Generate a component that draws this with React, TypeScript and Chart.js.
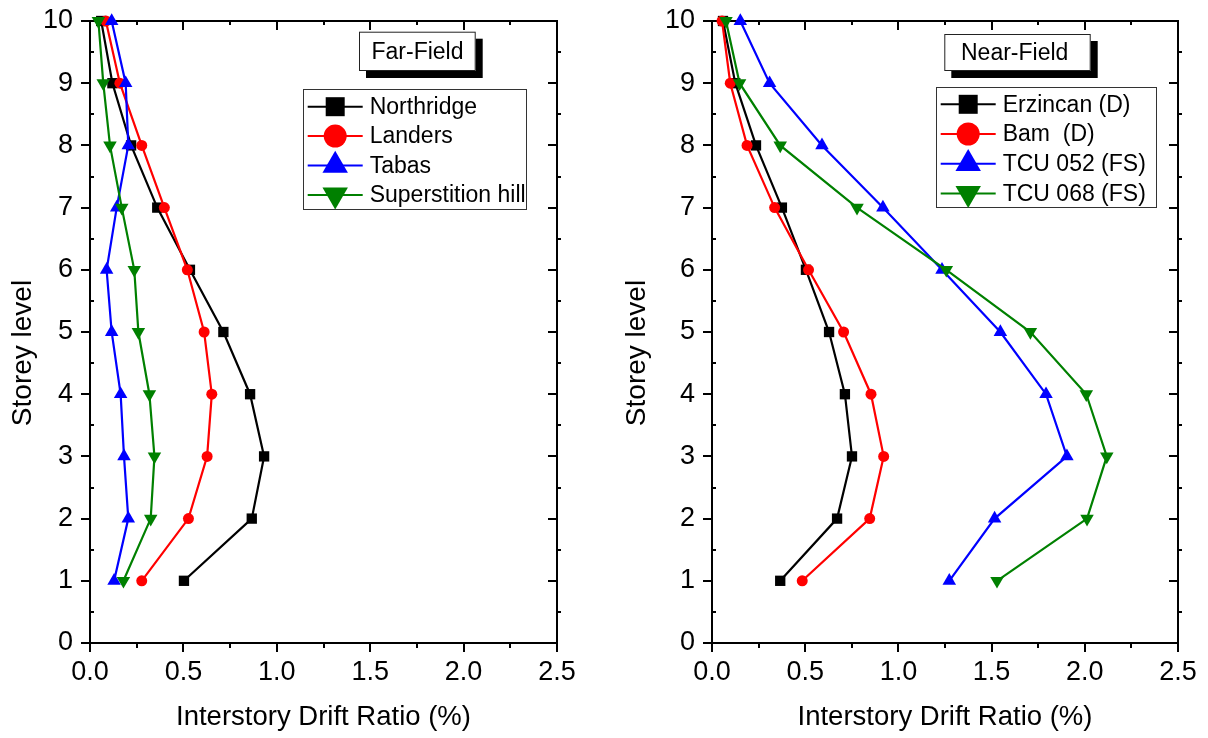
import React, { useEffect, useRef } from 'react';
import { Chart, registerables } from 'chart.js';

Chart.register(...registerables);

// ---------- data ----------
const STOREY_LEVELS = [10, 9, 8, 7, 6, 5, 4, 3, 2, 1];

const FAR_LABELS = ['Northridge', 'Landers', 'Tabas', 'Superstition hill'];
const NORTHRIDGE = [0.06, 0.12, 0.22, 0.36, 0.535, 0.714, 0.857, 0.932, 0.866, 0.503];
const LANDERS = [0.085, 0.16, 0.277, 0.398, 0.521, 0.611, 0.652, 0.627, 0.527, 0.277];
const TABAS = [0.116, 0.191, 0.205, 0.143, 0.089, 0.116, 0.164, 0.182, 0.205, 0.129];
const SUPERSTITION = [0.045, 0.071, 0.107, 0.17, 0.237, 0.259, 0.318, 0.345, 0.325, 0.179];

const NEAR_LABELS = ['Erzincan (D)', 'Bam  (D)', 'TCU 052 (FS)', 'TCU 068 (FS)'];
const ERZINCAN = [0.059, 0.125, 0.236, 0.375, 0.504, 0.628, 0.713, 0.751, 0.671, 0.366];
const BAM = [0.054, 0.098, 0.188, 0.336, 0.518, 0.706, 0.853, 0.921, 0.846, 0.484];
const TCU052 = [0.152, 0.309, 0.59, 0.917, 1.234, 1.547, 1.792, 1.904, 1.516, 1.273];
const TCU068 = [0.075, 0.148, 0.366, 0.778, 1.257, 1.708, 2.008, 2.118, 2.012, 1.529];

const X_MIN = 0;
const X_MAX = 2.5;
const X_STEP = 0.5;
const Y_MIN = 0;
const Y_MAX = 10;
const Y_STEP = 1;

const X_TITLE = 'Interstory Drift Ratio (%)';
const Y_TITLE = 'Storey level';

// ---------- styles ----------
const FONT = "'Liberation Sans', Arial, Helvetica, sans-serif";
const COLORS = ['#000000', '#ff0000', '#0000ff', '#008000'];
const STYLES = [
  { pointStyle: 'rect', pointRadius: 7.3, pointRotation: 0 },
  { pointStyle: 'circle', pointRadius: 5.5, pointRotation: 0 },
  { pointStyle: 'triangle', pointRadius: 7.8, pointRotation: 0 },
  { pointStyle: 'triangle', pointRadius: 7.8, pointRotation: 180 },
];

function makeDatasets(labels: string[], series: number[][]) {
  return series.map((vals, i) => ({
    label: labels[i],
    data: vals.map((v, k) => ({ x: v, y: STOREY_LEVELS[k] })),
    borderColor: COLORS[i],
    backgroundColor: COLORS[i],
    pointBackgroundColor: COLORS[i],
    pointBorderColor: COLORS[i],
    pointBorderWidth: 0,
    borderWidth: 2.2,
    showLine: true,
    clip: false as any,
    order: series.length - 1 - i,
    ...STYLES[i],
  }));
}

function drawMarker(ctx: CanvasRenderingContext2D, style: string, rot: number, x: number, y: number, color: string) {
  ctx.save();
  ctx.fillStyle = color;
  ctx.beginPath();
  if (style === 'rect') {
    const s = 19;
    ctx.rect(x - s / 2, y - s / 2, s, s);
  } else if (style === 'circle') {
    ctx.arc(x, y, 11.5, 0, Math.PI * 2);
  } else {
    const r = 14.7;
    let a = (rot * Math.PI) / 180;
    ctx.moveTo(x + Math.sin(a) * r, y - Math.cos(a) * r);
    a += (2 * Math.PI) / 3;
    ctx.lineTo(x + Math.sin(a) * r, y - Math.cos(a) * r);
    a += (2 * Math.PI) / 3;
    ctx.lineTo(x + Math.sin(a) * r, y - Math.cos(a) * r);
    ctx.closePath();
  }
  ctx.fill();
  ctx.restore();
}

const framePlugin = {
  id: 'frameTicks',
  beforeDatasetsDraw(chart: any) {
    const { ctx, chartArea } = chart;
    const { left, right, top, bottom } = chartArea;
    const xs = chart.scales.x;
    const ys = chart.scales.y;
    ctx.save();
    ctx.strokeStyle = '#000';
    ctx.lineWidth = 2;
    ctx.beginPath();
    const xMaj = xs.ticks.map((t: any) => t.value);
    const yMaj = ys.ticks.map((t: any) => t.value);
    xMaj.forEach((v: number, i: number) => {
      const p = Math.round(xs.getPixelForValue(v));
      ctx.moveTo(p, bottom); ctx.lineTo(p, bottom + 9);
      ctx.moveTo(p, top); ctx.lineTo(p, top + 9);
      if (i < xMaj.length - 1) {
        const m = Math.round(xs.getPixelForValue((v + xMaj[i + 1]) / 2));
        ctx.moveTo(m, bottom); ctx.lineTo(m, bottom + 5);
        ctx.moveTo(m, top); ctx.lineTo(m, top + 4);
      }
    });
    yMaj.forEach((v: number, i: number) => {
      const p = Math.round(ys.getPixelForValue(v));
      ctx.moveTo(left - 9, p); ctx.lineTo(left, p);
      ctx.moveTo(right - 9, p); ctx.lineTo(right, p);
      if (i < yMaj.length - 1) {
        const m = Math.round(ys.getPixelForValue((v + yMaj[i + 1]) / 2));
        ctx.moveTo(left, m); ctx.lineTo(left + 4, m);
        ctx.moveTo(right, m); ctx.lineTo(right + 4, m);
      }
    });
    ctx.stroke();
    ctx.strokeRect(left, top, right - left, bottom - top);
    ctx.restore();
  },
};

const overlayPlugin = {
  id: 'overlay',
  afterDraw(chart: any, _args: any, opts: any) {
    const { ctx, chartArea } = chart;
    const { right, top } = chartArea;
    ctx.save();
    // y-axis title
    ctx.save();
    ctx.translate(opts.yTitleX, opts.yTitleY);
    ctx.rotate(-Math.PI / 2);
    ctx.font = `28px ${FONT}`;
    ctx.fillStyle = '#000';
    ctx.textAlign = 'center';
    ctx.textBaseline = 'middle';
    ctx.fillText(Y_TITLE, 0, 0);
    ctx.restore();

    // title box with shadow
    const bx = right - opts.boxRight[0];
    const bx2 = right - opts.boxRight[1];
    const by = top + opts.boxTop[0];
    const by2 = top + opts.boxTop[1];
    ctx.fillStyle = '#000';
    ctx.fillRect(bx + 7, by + 7, bx2 - bx, by2 - by);
    ctx.fillStyle = '#fff';
    ctx.fillRect(bx, by, bx2 - bx, by2 - by);
    ctx.strokeStyle = '#222';
    ctx.lineWidth = 1;
    ctx.strokeRect(bx + 0.5, by + 0.5, bx2 - bx - 1, by2 - by - 1);
    ctx.fillStyle = '#000';
    ctx.font = `23px ${FONT}`;
    ctx.textAlign = 'left';
    ctx.textBaseline = 'middle';
    ctx.fillText(opts.boxText, bx + opts.boxTextPad, (by + by2) / 2 + 1);

    // legend
    const lx = right - opts.legRight[0];
    const lx2 = right - opts.legRight[1];
    const ly = top + opts.legTop[0];
    const ly2 = top + opts.legTop[1];
    ctx.fillStyle = '#fff';
    ctx.fillRect(lx, ly, lx2 - lx, ly2 - ly);
    ctx.strokeStyle = '#333';
    ctx.lineWidth = 1;
    ctx.strokeRect(Math.round(lx) + 0.5, Math.round(ly) + 0.5, Math.round(lx2 - lx), Math.round(ly2 - ly));
    chart.data.datasets.forEach((ds: any, i: number) => {
      const ey = ly + opts.legFirst + i * opts.legGap;
      const sx = lx + 5;
      const ex = sx + 55;
      ctx.strokeStyle = ds.borderColor;
      ctx.lineWidth = 2;
      ctx.beginPath();
      ctx.moveTo(sx, ey);
      ctx.lineTo(ex, ey);
      ctx.stroke();
      drawMarker(ctx, ds.pointStyle, ds.pointRotation || 0, (sx + ex) / 2, ey, ds.borderColor);
      ctx.fillStyle = '#000';
      ctx.font = `23px ${FONT}`;
      ctx.textAlign = 'left';
      ctx.textBaseline = 'middle';
      ctx.fillText(ds.label, ex + 7, ey + 1);
    });
    ctx.restore();
  },
};

function makeConfig(labels: string[], series: number[][], yWidth: number, pad: any, overlay: any) {
  return {
    type: 'scatter' as const,
    data: { datasets: makeDatasets(labels, series) },
    plugins: [framePlugin, overlayPlugin],
    options: {
      animation: false as const,
      responsive: false,
      devicePixelRatio: 1,
      layout: { padding: pad },
      plugins: {
        legend: { display: false },
        tooltip: { enabled: false },
        overlay,
      },
      scales: {
        x: {
          type: 'linear' as const,
          min: X_MIN,
          max: X_MAX,
          grid: { display: false, drawTicks: false },
          border: { display: false },
          ticks: {
            stepSize: X_STEP,
            padding: 13,
            color: '#000',
            font: { size: 27, family: FONT },
            callback: (v: any) => Number(v).toFixed(1),
            maxRotation: 0,
          },
          title: {
            display: true,
            text: X_TITLE,
            color: '#000',
            font: { size: 27.5, family: FONT },
            padding: { top: 0, bottom: 4 },
          },
          afterFit: (s: any) => { s.height = 95; s.paddingLeft = 0; s.paddingRight = 0; },
        },
        y: {
          type: 'linear' as const,
          min: Y_MIN,
          max: Y_MAX,
          grid: { display: false, drawTicks: false },
          border: { display: false },
          ticks: {
            stepSize: Y_STEP,
            padding: 17,
            color: '#000',
            font: { size: 27, family: FONT },
          },
          afterFit: (s: any) => { s.width = yWidth; s.paddingTop = 0; s.paddingBottom = 0; },
        },
      },
    },
  };
}

function ChartCanvas({ config, left }: { config: any; left: number }) {
  const ref = useRef<HTMLCanvasElement | null>(null);
  useEffect(() => {
    if (!ref.current) return;
    const chart = new Chart(ref.current, config);
    return () => chart.destroy();
  }, [config]);
  return (
    <canvas
      ref={ref}
      width={604}
      height={738}
      style={{ position: 'absolute', left, top: 0, width: 604, height: 738, display: 'block' }}
    />
  );
}

const farConfig = makeConfig(
  FAR_LABELS,
  [NORTHRIDGE, LANDERS, TABAS, SUPERSTITION],
  90,
  { left: 0, right: 47, top: 21, bottom: 0 },
  {
    yTitleX: 23,
    yTitleY: 353,
    boxRight: [198, 81.3],
    boxTop: [10.7, 50],
    boxText: 'Far-Field',
    boxTextPad: 12.5,
    legRight: [254.3, 31],
    legTop: [68.3, 188.3],
    legFirst: 17.4,
    legGap: 29.4,
  }
);

const nearConfig = makeConfig(
  NEAR_LABELS,
  [ERZINCAN, BAM, TCU052, TCU068],
  98,
  { left: 10, right: 30, top: 21, bottom: 0 },
  {
    yTitleX: 33,
    yTitleY: 353,
    boxRight: [233.7, 87.3],
    boxTop: [13, 50],
    boxText: 'Near-Field',
    boxTextPad: 16.7,
    legRight: [242.3, 22],
    legTop: [65.7, 185.7],
    legFirst: 17.6,
    legGap: 29.7,
  }
);

export default function App() {
  return (
    <div style={{ position: 'absolute', left: 0, top: 0, width: 1208, height: 738, background: '#fff', overflow: 'hidden' }}>
      <ChartCanvas config={farConfig} left={0} />
      <ChartCanvas config={nearConfig} left={604} />
    </div>
  );
}
